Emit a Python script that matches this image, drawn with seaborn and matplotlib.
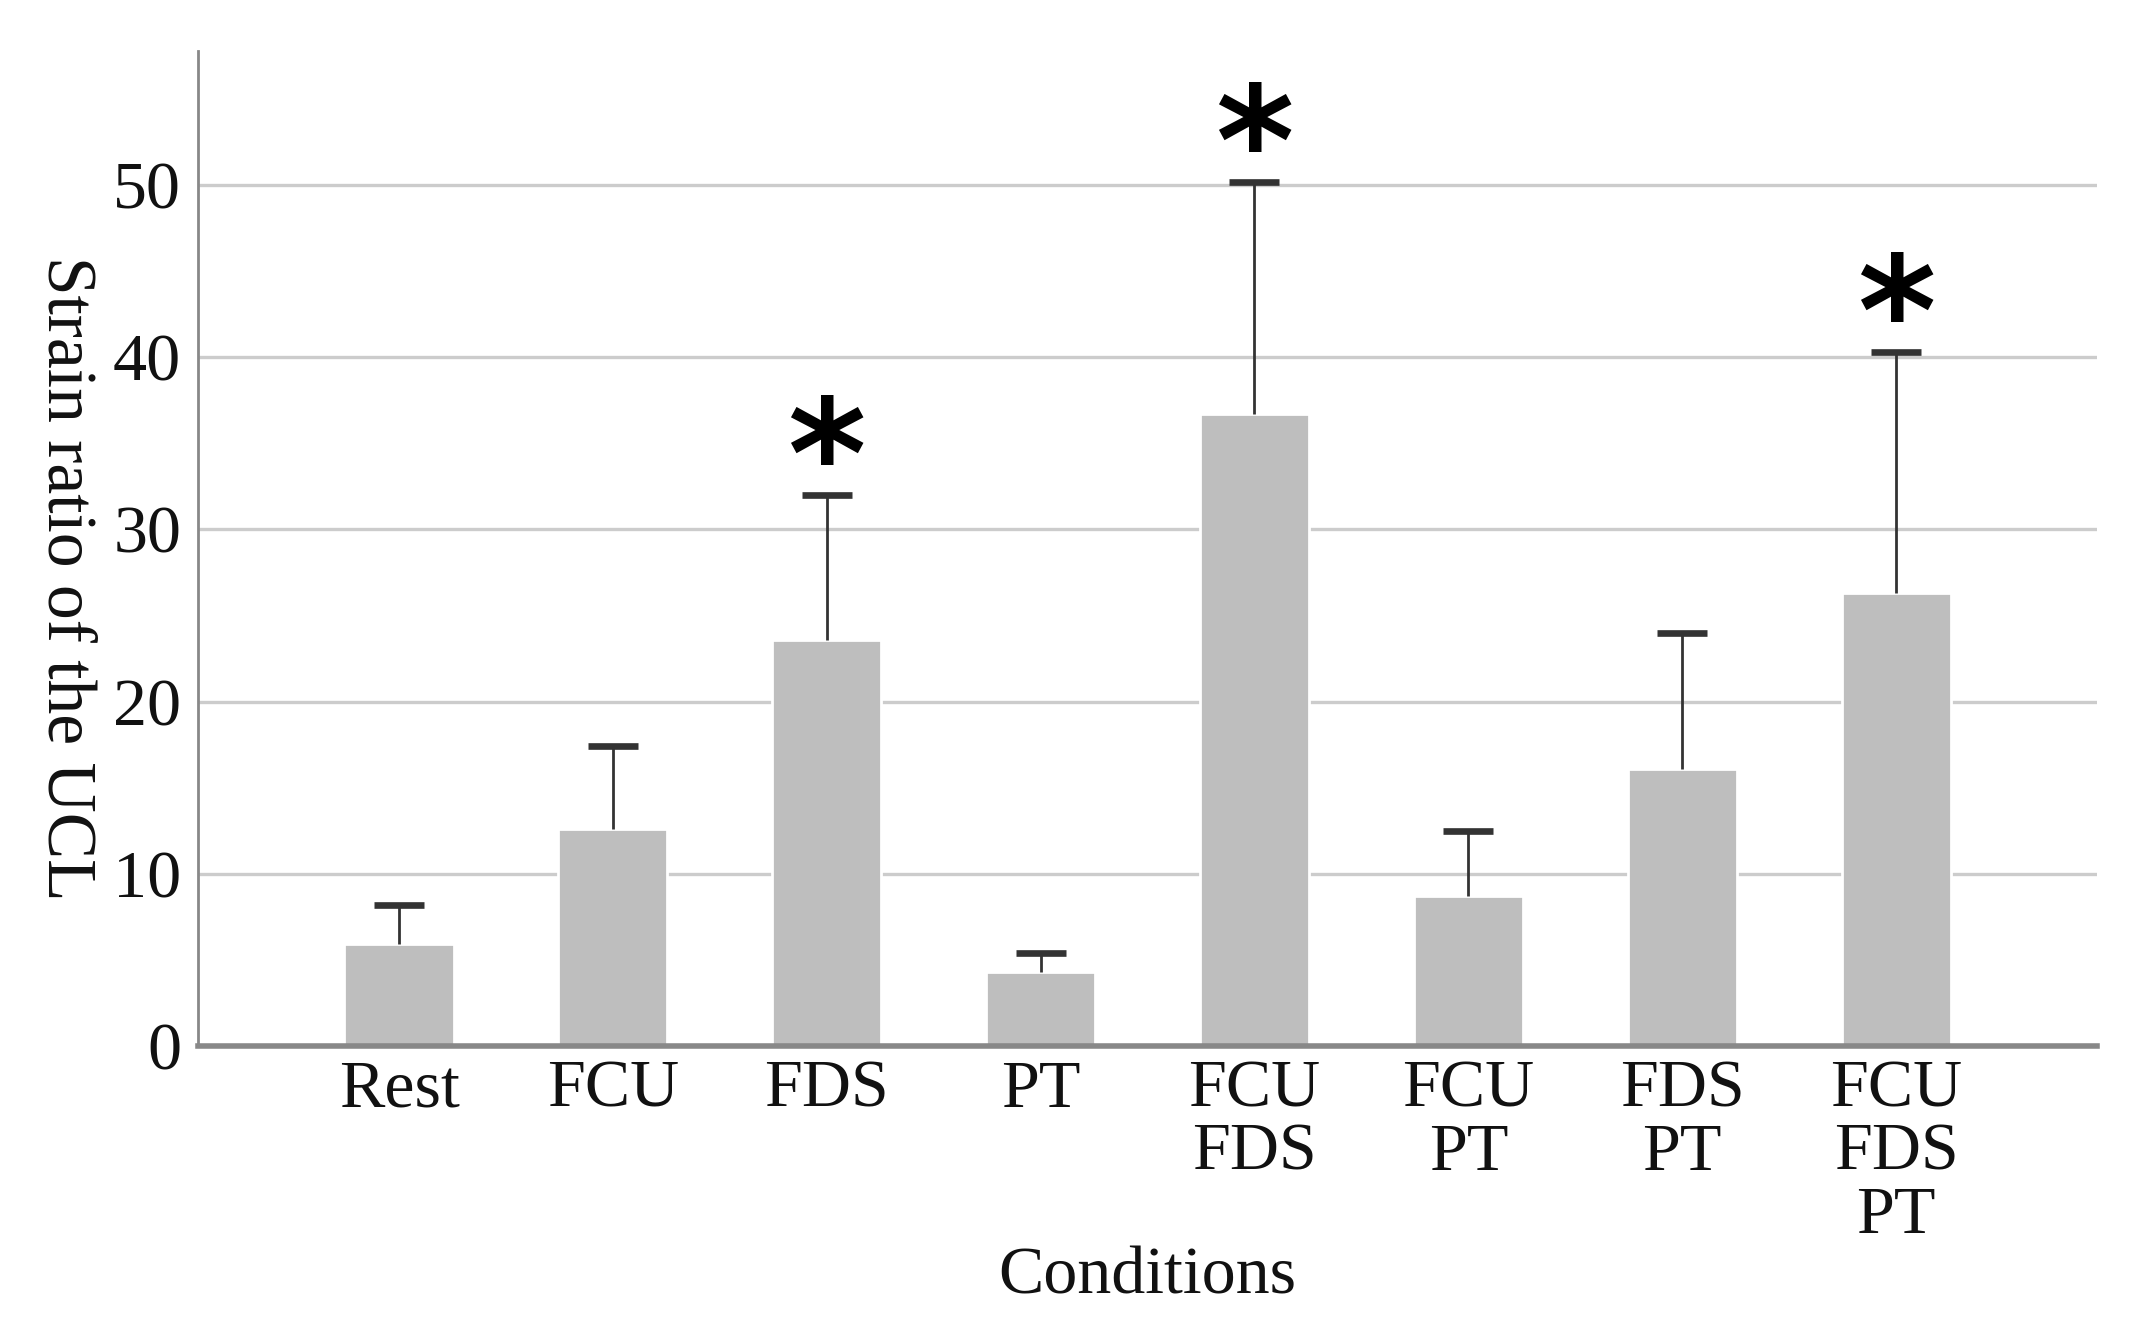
import numpy as np
import pandas as pd
import matplotlib
matplotlib.use('Agg')
import matplotlib.pyplot as plt
import seaborn as sns

# === data ===
conditions = ['Rest', 'FCU', 'FDS', 'PT', 'FCU\nFDS', 'FCU\nPT', 'FDS\nPT', 'FCU\nFDS\nPT']
means = [5.9, 12.6, 23.6, 4.3, 36.7, 8.7, 16.1, 26.3]
upper = [8.2, 17.4, 32.0, 5.4, 50.2, 12.5, 24.0, 40.3]
significant = [False, False, True, False, True, False, False, True]

df = pd.DataFrame({'Condition': conditions, 'Strain': means})

# === style ===
sns.set_theme(style="white")
plt.rcParams['font.family'] = ['Liberation Serif', 'DejaVu Serif']

fig = plt.figure(figsize=(10.645, 6.68), dpi=200)
ax = fig.add_axes([0.093, 0.217, 0.892, 0.745])

sns.barplot(data=df, x='Condition', y='Strain', color='#bebebe',
            width=0.51, errorbar=None, saturation=1, ax=ax)

# one-sided error bars (upward only)
x = np.arange(len(conditions))
err = np.array(upper) - np.array(means)
_, caps, _ = ax.errorbar(x, means, yerr=[np.zeros_like(err), err], fmt='none',
                         ecolor='#333333', elinewidth=1.0, capsize=9,
                         capthick=2.4, zorder=3)
caps[0].set_visible(False)
caps[1].set_color('#555555')

# significance marks
for xi, top, sig in zip(x, upper, significant):
    if sig:
        ax.text(xi, top - 2.5, '*', ha='center', va='bottom',
                fontsize=54, fontweight='bold', color='black',
                family='DejaVu Sans')

ax.set_xlim(-0.94, 7.94)
ax.set_ylim(0, 57.8)
ax.set_yticks([0, 10, 20, 30, 40, 50])
ax.yaxis.grid(True, color='#cccccc', linewidth=1.2)
ax.set_axisbelow(True)

for side in ['top', 'right']:
    ax.spines[side].set_visible(False)
ax.spines['left'].set_color('#888888')
ax.spines['left'].set_linewidth(1.0)
ax.spines['bottom'].set_color('#888888')
ax.spines['bottom'].set_linewidth(2.0)

ax.tick_params(axis='both', length=0, labelsize=24.5, colors='#111111')
ax.tick_params(axis='x', pad=5)
ax.tick_params(axis='y', pad=6)
for lab in ax.get_xticklabels():
    lab.set_linespacing(1.04)

ax.set_xlabel('Conditions', fontsize=24.5, color='#111111', labelpad=0)
ax.set_ylabel('Strain ratio of the UCL', fontsize=25, color='#111111',
              rotation=270, va='center', ha='center')
ax.yaxis.set_label_coords(-0.07, 0.47)

plt.savefig('out.png', dpi=200)
